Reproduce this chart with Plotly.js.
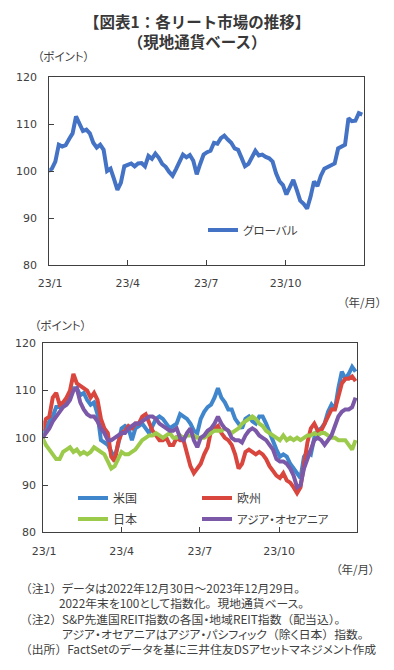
<!DOCTYPE html>
<html><head><meta charset="utf-8">
<script src="https://cdn.plot.ly/plotly-3.0.1.min.js"></script>
<style>
html,body{margin:0;padding:0;background:#fff;}
#chart{width:394px;height:670px;}
</style>
</head><body><div id="chart"></div>
<script>
const dates = ['2022-12-30','2023-01-03','2023-01-07','2023-01-11','2023-01-15','2023-01-19','2023-01-23','2023-01-27','2023-01-31','2023-02-04',
'2023-02-08','2023-02-12','2023-02-16','2023-02-20','2023-02-24','2023-02-28','2023-03-04','2023-03-08','2023-03-12','2023-03-16',
'2023-03-20','2023-03-24','2023-03-28','2023-04-01','2023-04-05','2023-04-09','2023-04-13','2023-04-17','2023-04-21','2023-04-25',
'2023-04-29','2023-05-03','2023-05-07','2023-05-11','2023-05-15','2023-05-19','2023-05-23','2023-05-27','2023-05-31','2023-06-04',
'2023-06-08','2023-06-12','2023-06-16','2023-06-20','2023-06-24','2023-06-28','2023-07-02','2023-07-06','2023-07-10','2023-07-14',
'2023-07-18','2023-07-22','2023-07-26','2023-07-30','2023-08-03','2023-08-07','2023-08-11','2023-08-15','2023-08-19','2023-08-23',
'2023-08-27','2023-08-31','2023-09-04','2023-09-08','2023-09-12','2023-09-16','2023-09-20','2023-09-24','2023-09-28','2023-10-02',
'2023-10-06','2023-10-10','2023-10-14','2023-10-18','2023-10-22','2023-10-26','2023-10-30','2023-11-03','2023-11-07','2023-11-11',
'2023-11-15','2023-11-19','2023-11-23','2023-11-27','2023-12-01','2023-12-05','2023-12-09','2023-12-13','2023-12-17','2023-12-21',
'2023-12-25','2023-12-29'];

const globalIdx = [100,100.5,102,105.6,105.2,105.5,106.8,108,111.6,110,
108.5,108.8,108,106,105,105.6,104.5,100,100.5,98.3,
96,97.5,101,101.3,101.6,101,101.6,101.7,101,103.2,
102.6,103.7,102.8,101.5,100.9,99.8,99,100.4,102,103.5,
102.9,103.4,102.2,99.3,101.5,103.5,104,104.3,106,105.8,
107,107.5,106.7,106,104.8,104.5,102.8,101,101.5,103,
104.3,103.3,103.5,103,102.7,102,99.5,97.8,97,95,
96.7,98.1,96,93.7,93,92,94.5,97.8,96.8,99,
100.5,100.8,101.1,101.6,104.8,105.3,105.6,111.2,110.6,110.7,
112.3,112];

const usIdx = [100,102,103.5,104.5,106.5,106.5,107,108,109.5,110.5,
110.5,109,109.5,108,107,107.5,105,99.5,99,98.5,
97,96,98.5,102,102.5,102,99.5,102,102.5,103,
102,101,102.5,104,104.5,104,103,102,102.5,103,
105,104.5,104,103,101.5,101,104,105.5,106.5,107,
108.5,110.5,108.5,107.5,106,106,104,103,102,104,
104.5,103.5,103,104.5,104.5,103,101,99,97.5,96,
96.5,96,94.5,93.5,92.5,91.5,96,97,96.5,100,
101.5,102,103,105.5,107,106,110.5,114,112.5,113.5,
115,114];

const euIdx = [101.5,104,104.5,108.5,109.5,107,107.5,108.5,110,113.5,
111.5,111,110.5,110,108.5,109.5,108,104,102,101,
96,95,99,101,101.5,102.5,102,103,103,104.5,
105,103,101.5,100.5,99.5,99.5,100,98.5,98.5,100,
99.5,99.5,97,94,92.5,93.5,94.5,96.5,98,101.5,
102,102.5,101,100,99.5,98.5,96.5,93.5,94.5,97,
97.5,97,96.5,97,96.5,95.5,94,93,92,91.5,
92.5,91,90.5,89.5,88.3,89.5,95,99,102,103,
101.5,101.5,103,104.5,106,106,109,111.5,112.5,112.5,
113,112];

const jpIdx = [100,98.5,97.5,96.5,95.5,95.5,97,97.5,98,97,
97.5,96.5,97,96.5,97,98,97.5,97,96.5,95,
93.5,94,95.5,97,96.5,96.5,97,97.5,98.5,99.5,
100,100.5,100.5,101,100.5,100,100.5,101,100,100,
100.5,100,100.5,100.5,100.5,100,100,100,100.5,101,
101.5,101.5,101.5,102,101.5,101,101.5,102,103,103.5,
104,104.5,104,103,102.5,101.5,101,100.5,100,99.5,
100.5,99.5,100,99.5,100,99.5,100,100.5,100.5,101,
100.5,101,101,100.5,100,100,99.5,99.5,99.5,98.5,
97.5,99.5];

const apIdx = [100,101,102,103.5,104.5,105.5,106.5,107,108,110,
110.5,107.5,106,105,104.5,104.5,103.5,102,101,99.5,
99.5,100,100.5,101,101,102,102.5,103,103,103.5,
104,104.5,104.5,104,103,102.5,102,101.5,101.5,102,
100,99.5,101,102,99.5,98,100,100.5,101.5,102,
103,104.5,103,102,101.5,100,99.5,99.5,99,100.5,
101.5,102,101.5,100.5,100,99.5,98.5,97.5,95.5,95,
95,94.5,93.5,92,89.5,90,93.5,95.5,97.5,99.5,
100,99.5,98.5,99.5,100.5,102.5,104.5,105.5,106,106,
106.5,108.5];

const tickVals = ['2023-01-01','2023-04-01','2023-07-01','2023-10-01'];
const tickText = ['23/1','23/4','23/7','23/10'];
const yTicks = [80,90,100,110,120];

const titleLines = ['【図表1：各リート市場の推移】', '（現地通貨ベース）'];
const noteLines = [
  '（注1）データは2022年12月30日～2023年12月29日。',
  '2022年末を100として指数化。現地通貨ベース。',
  '（注2）S&amp;P先進国REIT指数の各国・地域REIT指数（配当込）。',
  'アジア・オセアニアはアジア・パシフィック（除く日本）指数。',
  '（出所）FactSetのデータを基に三井住友DSアセットマネジメント作成'
];
const noteIndent = [0, 39, 0, 42, 0];

const W = 394, H = 670;
const px = v => v / W;
const py = v => 1 - v / H;
const JP = 'Noto Sans CJK JP';
const NUM = 'DejaVu Sans';
const TXT = '#404040';

function xAxis(domain, anchor) {
  return {
    type: 'date', domain: domain, anchor: anchor,
    range: ['2022-12-31', '2023-12-31'],
    tickvals: tickVals, ticktext: tickText,
    ticks: 'inside', ticklen: 5, tickcolor: '#404040', tickwidth: 1,
    showline: true, linecolor: '#404040', linewidth: 1, mirror: true,
    showgrid: false, zeroline: false, ticklabelstandoff: 8,
    tickfont: {family: NUM, size: 11, color: TXT}, fixedrange: true
  };
}
function yAxis(domain, anchor, standoff) {
  return {
    domain: domain, anchor: anchor, range: [80, 120],
    tickvals: yTicks, ticks: 'inside', ticklen: 5, tickcolor: '#404040', tickwidth: 1,
    showline: true, linecolor: '#404040', linewidth: 1, mirror: true,
    showgrid: false, zeroline: false, ticklabelstandoff: standoff,
    tickfont: {family: NUM, size: 11, color: TXT}, fixedrange: true
  };
}
function legendAt(xLine, yc, size) {
  return {x: px(xLine - 5), y: py(yc), xanchor: 'left', yanchor: 'middle',
    bgcolor: 'rgba(0,0,0,0)', borderwidth: 0,
    font: {family: JP, size: size, color: TXT}};
}

const traces = [
  {x: dates, y: globalIdx, name: 'グローバル', type: 'scatter', mode: 'lines',
   line: {color: '#4472c4', width: 4}, xaxis: 'x', yaxis: 'y', legend: 'legend'},
  {x: dates, y: usIdx, name: '米国', type: 'scatter', mode: 'lines',
   line: {color: '#3f86cc', width: 4}, xaxis: 'x2', yaxis: 'y2', legend: 'legend2'},
  {x: dates, y: euIdx, name: '欧州', type: 'scatter', mode: 'lines',
   line: {color: '#d9463e', width: 4}, xaxis: 'x2', yaxis: 'y2', legend: 'legend3'},
  {x: dates, y: jpIdx, name: '日本', type: 'scatter', mode: 'lines',
   line: {color: '#9ccb4c', width: 4}, xaxis: 'x2', yaxis: 'y2', legend: 'legend4'},
  {x: dates, y: apIdx, name: 'アジア・オセアニア', type: 'scatter', mode: 'lines',
   line: {color: '#7b58a8', width: 4}, xaxis: 'x2', yaxis: 'y2', legend: 'legend5'}
];

function ann(text, x, y, xanchor, size, bold, align) {
  return {text: bold ? '<b>' + text + '</b>' : text, x: px(x), y: py(y),
    xref: 'paper', yref: 'paper', xanchor: xanchor, yanchor: 'middle',
    align: align || 'center', showarrow: false,
    font: {family: JP, size: size, color: bold ? '#383838' : TXT}};
}

// full-width punctuation keeps its full width; kana become proportional
const wideMarks = s => s.replace(/([（）。～])/g, '<span style="font-feature-settings:normal">$1</span>');

const layout = {
  width: W, height: H, autosize: false,
  margin: {l: 0, r: 0, t: 0, b: 0},
  paper_bgcolor: '#ffffff', plot_bgcolor: '#ffffff',
  showlegend: true, hovermode: false,
  xaxis: xAxis([px(49.3), px(364)], 'y'),
  yaxis: yAxis([py(265), py(77)], 'x', 9),
  xaxis2: xAxis([px(43.3), px(357.3)], 'y2'),
  yaxis2: yAxis([py(532.3), py(343.3)], 'x2', 4),
  legend: legendAt(208, 230, 11.5),
  legend2: legendAt(78, 498, 12),
  legend3: legendAt(202, 498, 12),
  legend4: legendAt(78, 519, 12),
  legend5: legendAt(202, 519, 11.5),
  annotations: [
    ann(titleLines.join('<br>'), 197, 31, 'center', 15.5, true),
    ann('（ポイント）', 27, 56, 'left', 11.5, false),
    ann('（年/月）', 335, 302, 'left', 11.5, false),
    ann('（ポイント）', 24, 324.5, 'left', 11.5, false),
    ann('（年/月）', 328, 569, 'left', 11.5, false),
    ann(noteLines.map(wideMarks).join('<br>'), 18, 618, 'left', 11.8, false, 'left')
  ]
};

const PALT = ['グローバル', '米国', '欧州', '日本', 'アジア・オセアニア', '（ポイント）', '（年/月）'];

Plotly.newPlot('chart', traces, layout, {displayModeBar: false, staticPlot: true}).then(gd => {
  gd.querySelectorAll('svg text').forEach(t => {
    const s = t.textContent;
    if (PALT.indexOf(s) >= 0) t.style.fontFeatureSettings = '"palt" 1';
    if (s.indexOf('（注1）') === 0) {
      t.style.fontFeatureSettings = '"palt" 1';
      const lines = t.querySelectorAll('tspan.line');
      lines.forEach((ln, i) => {
        const x0 = parseFloat(ln.getAttribute('x') || '0');
        if (noteIndent[i]) ln.setAttribute('x', x0 + noteIndent[i]);
      });
    }
  });
});
</script>
</body></html>
